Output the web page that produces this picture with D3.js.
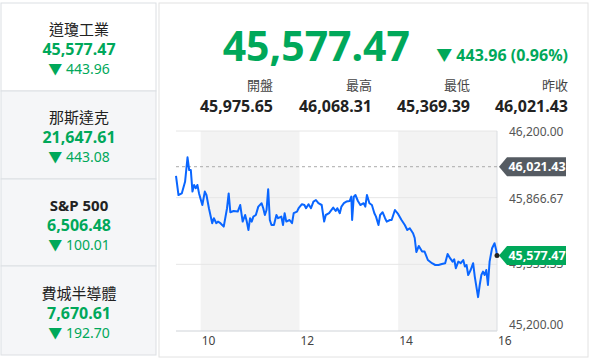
<!DOCTYPE html>
<html>
<head>
<meta charset="utf-8">
<script src="https://cdn.jsdelivr.net/npm/d3@7"></script>
<style>
  body { margin: 0; background: #fff; }
  svg { font-family: "Noto Sans", "Noto Sans CJK TC", sans-serif; }
</style>
</head>
<body>
<svg id="chart" width="594" height="360"></svg>
<script>
// index list on the left
var indexNames = ["道瓊工業", "那斯達克", "S&P 500", "費城半導體"];
var indexPrices = ["45,577.47", "21,647.61", "6,506.48", "7,670.61"];
var indexChanges = ["443.96", "443.08", "100.01", "192.70"];

// header numbers
var lastPrice = 45577.47;
var change = "443.96 (0.96%)";
var statLabels = ["開盤", "最高", "最低", "昨收"];
var statValues = [45975.65, 46068.31, 45369.39, 46021.43];
var prevClose = 46021.43;

// intraday, minutes after 9:30
var minutes = [0, 3, 7, 11, 14, 16, 18, 20, 22, 24, 26, 28, 32, 35, 37, 40, 44, 46, 49, 51,
  54, 58, 62, 64, 66, 70, 75, 78, 81, 84, 86, 88, 90, 92, 94, 97, 100, 104, 106, 108,
  110, 112, 114, 116, 119, 122, 124, 128, 130, 132, 134, 138, 141, 143, 147, 149, 153, 156, 158, 161,
  164, 167, 170, 173, 177, 180, 182, 186, 191, 194, 196, 199, 201, 204, 207, 211, 213, 214, 216, 218,
  221, 224, 228, 230, 232, 235, 238, 241, 243, 246, 248, 251, 254, 256, 260, 262, 266, 270, 274, 278,
  281, 284, 288, 290, 292, 295, 299, 302, 306, 311, 315, 319, 323, 327, 330, 333, 336, 338, 340, 343,
  346, 349, 351, 353, 355, 358, 361, 363, 367, 369, 371, 373, 375, 377, 379, 381, 384, 387, 389, 390];
var values = [45975.65, 45880, 45888, 45946, 46068.31, 46005, 46005, 45897, 45930, 45914, 45930, 45888, 45830, 45897, 45880, 45814, 45739, 45764, 45739, 45747,
  45739, 45722, 45814, 45888, 45794, 45800, 45797, 45830, 45747, 45780, 45747, 45705, 45764, 45747, 45772, 45780, 45822, 45839, 45814, 45780,
  45805, 45909, 45755, 45730, 45730, 45780, 45764, 45772, 45730, 45789, 45747, 45755, 45739, 45789, 45797, 45814, 45834, 45830, 45814, 45834,
  45814, 45847, 45855, 45839, 45830, 45747, 45780, 45789, 45817, 45800, 45814, 45789, 45822, 45839, 45847, 45850, 45872, 45755, 45872, 45880,
  45850, 45830, 45839, 45822, 45880, 45839, 45830, 45789, 45772, 45730, 45780, 45794, 45764, 45747, 45755, 45755, 45805, 45784, 45755, 45730,
  45705, 45714, 45689, 45665, 45595, 45625, 45597, 45597, 45555, 45539, 45530, 45530, 45535, 45539, 45585, 45564, 45547, 45559, 45514, 45547,
  45539, 45555, 45522, 45530, 45480, 45505, 45539, 45472, 45369.39, 45430, 45480, 45497, 45480, 45505, 45430, 45547, 45614, 45639, 45605, 45577.47];

var yTicks = [45200, 45533.33, 45866.67, 46200];
var xTicks = [10, 12, 14, 16];
var shadeBands = [[10, 12], [14, 16]];

var green = "#00a85a";
var fmt = d3.format(",.2f");
var svg = d3.select("#chart");

// ---- left panel
var rowTops = [3, 91, 179, 266, 355];
var left = svg.append("g");
indexNames.forEach(function(name, i) {
  var y0 = rowTops[i], y1 = rowTops[i + 1];
  left.append("rect").attr("x", 1).attr("y", y0).attr("width", 155).attr("height", y1 - y0)
    .attr("fill", i == 0 ? "#fff" : "#f5f6f8").attr("stroke", "#dcdfe3");
  var cy = (y0 + y1) / 2;
  left.append("text").attr("x", 79).attr("y", cy - 12).attr("text-anchor", "middle")
    .attr("font-size", 15).attr("font-weight", i == 2 ? "bold" : "normal").attr("fill", "#222").text(name);
  left.append("text").attr("x", 79).attr("y", cy + 8).attr("text-anchor", "middle")
    .attr("font-size", 16).attr("font-weight", "bold").attr("fill", green).text(indexPrices[i]);
  left.append("text").attr("x", 79).attr("y", cy + 27).attr("text-anchor", "middle")
    .attr("font-size", 14).attr("fill", green).text("▼ " + indexChanges[i]);
});

// ---- right panel frame
svg.append("rect").attr("x", 159).attr("y", 3).attr("width", 429).attr("height", 354)
  .attr("fill", "#fff").attr("stroke", "#e2e2e2");

svg.append("text").attr("x", 410).attr("y", 61).attr("text-anchor", "end")
  .attr("font-size", 41).attr("font-weight", "bold").attr("fill", green).text(fmt(lastPrice));
svg.append("text").attr("x", 568).attr("y", 61).attr("text-anchor", "end")
  .attr("font-size", 16).attr("font-weight", "bold").attr("fill", green).text("▼ " + change);

var statRight = [273, 372, 470, 568];
statLabels.forEach(function(lab, i) {
  svg.append("text").attr("x", statRight[i]).attr("y", 90).attr("text-anchor", "end")
    .attr("font-size", 13).attr("fill", "#444").text(lab);
  svg.append("text").attr("x", statRight[i]).attr("y", 112).attr("text-anchor", "end")
    .attr("font-size", 16).attr("font-weight", "bold").attr("fill", "#222").text(fmt(statValues[i]));
});

// ---- chart
var x = d3.scaleLinear().domain([9.5, 16]).range([176, 497]);
var y = d3.scaleLinear().domain([45200, 46200]).range([331, 131]);
var plot = svg.append("g");

plot.selectAll("rect.band").data(shadeBands).enter().append("rect")
  .attr("x", function(d) { return x(d[0]); }).attr("y", y(46200))
  .attr("width", function(d) { return x(d[1]) - x(d[0]); }).attr("height", y(45200) - y(46200))
  .attr("fill", "#f3f3f3");

plot.selectAll("line.grid").data(yTicks).enter().append("line")
  .attr("x1", x(9.5)).attr("x2", x(16))
  .attr("y1", function(d) { return y(d); }).attr("y2", function(d) { return y(d); })
  .attr("stroke", function(d) { return d == 45200 ? "#cfd3d8" : "#e6e6e6"; });
plot.append("line").attr("x1", x(16)).attr("x2", x(16)).attr("y1", y(46200)).attr("y2", y(45200))
  .attr("stroke", "#dadde1");

plot.append("line").attr("x1", x(9.5)).attr("x2", x(16))
  .attr("y1", y(prevClose)).attr("y2", y(prevClose))
  .attr("stroke", "#aaa").attr("stroke-dasharray", "3,3");

var yLabelShift = { 46200: 5, 45866.67: 5, 45533.33: 4, 45200: -2 };
plot.selectAll("text.ylab").data(yTicks).enter().append("text")
  .attr("x", 509).attr("y", function(d) { return y(d) + yLabelShift[d]; })
  .attr("font-size", 12).attr("fill", "#555").text(function(d) { return fmt(d); });

plot.selectAll("text.xlab").data(xTicks).enter().append("text")
  .attr("x", function(d) { return x(d) + 1; }).attr("y", 345)
  .attr("font-size", 12).attr("fill", "#444").text(function(d) { return d; });

var pts = minutes.map(function(m, i) { return [9.5 + m / 60, values[i]]; });
plot.append("path").datum(pts)
  .attr("d", d3.line().x(function(d) { return x(d[0]); }).y(function(d) { return y(d[1]); }))
  .attr("fill", "none").attr("stroke", "#0a66ff").attr("stroke-width", 2)
  .attr("stroke-linejoin", "round");

// price tags
function tag(v, color) {
  var cy = y(v);
  plot.append("path")
    .attr("d", "M499," + cy + "L507," + (cy - 9.5) + "L566," + (cy - 9.5) + "L566," + (cy + 9.5) + "L507," + (cy + 9.5) + "Z")
    .attr("fill", color);
  plot.append("text").attr("x", 537).attr("y", cy + 4.5).attr("text-anchor", "middle")
    .attr("font-size", 12.5).attr("font-weight", "bold").attr("fill", "#fff").text(fmt(v));
}
tag(prevClose, "#555b62");
tag(lastPrice, green);
plot.append("circle").attr("cx", x(16)).attr("cy", y(lastPrice)).attr("r", 2.5).attr("fill", "#222");
</script>
</body>
</html>
